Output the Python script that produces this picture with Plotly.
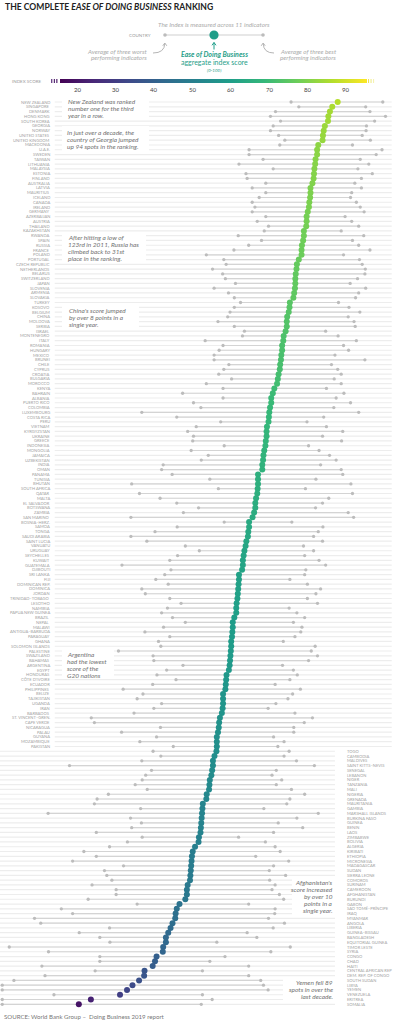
import plotly.graph_objects as go

countries = [
    "NEW ZEALAND", "SINGAPORE", "DENMARK", "HONG KONG", "SOUTH KOREA", "GEORGIA", "NORWAY",
    "UNITED STATES", "UNITED KINGDOM", "MACEDONIA", "U.A.E.", "SWEDEN", "TAIWAN", "LITHUANIA",
    "MALAYSIA", "ESTONIA", "FINLAND", "AUSTRALIA", "LATVIA", "MAURITIUS", "ICELAND", "CANADA",
    "IRELAND", "GERMANY", "AZERBAIJAN", "AUSTRIA", "THAILAND", "KAZAKHSTAN", "RWANDA", "SPAIN",
    "RUSSIA", "FRANCE", "POLAND", "PORTUGAL", "CZECH REPUBLIC", "NETHERLANDS", "BELARUS",
    "SWITZERLAND", "JAPAN", "SLOVENIA", "ARMENIA", "SLOVAKIA", "TURKEY", "KOSOVO", "BELGIUM",
    "CHINA", "MOLDOVA", "SERBIA", "ISRAEL", "MONTENEGRO", "ITALY", "ROMANIA", "HUNGARY", "MEXICO",
    "BRUNEI", "CHILE", "CYPRUS", "CROATIA", "BULGARIA", "MOROCCO", "KENYA", "BAHRAIN", "ALBANIA",
    "PUERTO RICO", "COLOMBIA", "LUXEMBOURG", "COSTA RICA", "PERU", "VIETNAM", "KYRGYZSTAN",
    "UKRAINE", "GREECE", "INDONESIA", "MONGOLIA", "JAMAICA", "UZBEKISTAN", "INDIA", "OMAN",
    "PANAMA", "TUNISIA", "BHUTAN", "SOUTH AFRICA", "QATAR", "MALTA", "EL SALVADOR", "BOTSWANA",
    "ZAMBIA", "SAN MARINO", "BOSNIA–HERZ.", "SAMOA", "TONGA", "SAUDI ARABIA", "SAINT LUCIA",
    "VANUATU", "URUGUAY", "SEYCHELLES", "KUWAIT", "GUATEMALA", "DJIBOUTI", "SRI LANKA", "FIJI",
    "DOMINICAN REP.", "DOMINICA", "JORDAN", "TRINIDAD–TOBAGO", "LESOTHO", "NAMIBIA",
    "PAPUA NEW GUINEA", "BRAZIL", "NEPAL", "MALAWI", "ANTIGUA–BARBUDA", "PARAGUAY", "GHANA",
    "SOLOMON ISLANDS", "PALESTINE", "SWAZILAND", "BAHAMAS", "ARGENTINA", "EGYPT", "HONDURAS",
    "CÔTE D'IVOIRE", "ECUADOR", "PHILIPPINES", "BELIZE", "TAJIKISTAN", "UGANDA", "IRAN",
    "BARBADOS", "ST. VINCENT–GREN.", "CAPE VERDE", "NICARAGUA", "PALAU", "GUYANA", "MOZAMBIQUE",
    "PAKISTAN", "TOGO", "CAMBODIA", "MALDIVES", "SAINT KITTS–NEVIS", "SENEGAL", "LEBANON",
    "NIGER", "TANZANIA", "MALI", "NIGERIA", "GRENADA", "MAURITANIA", "GAMBIA", "MARSHALL ISLANDS",
    "BURKINA FASO", "GUINEA", "BENIN", "LAOS", "ZIMBABWE", "BOLIVIA", "ALGERIA", "KIRIBATI",
    "ETHIOPIA", "MICRONESIA", "MADAGASCAR", "SUDAN", "SIERRA LEONE", "COMOROS", "SURINAM",
    "CAMEROON", "AFGHANISTAN", "BURUNDI", "GABON", "SÃO TOMÉ–PRÍNCIPE", "IRAQ", "MYANMAR",
    "ANGOLA", "LIBERIA", "GUINEA–BISSAU", "BANGLADESH", "EQUITORIAL GUINEA", "TIMOR LESTE",
    "SYRIA", "CONGO", "CHAD", "HAITI", "CENTRAL AFRICAN REP", "DEM. REP. OF CONGO",
    "SOUTH SUDAN", "LIBYA", "YEMEN", "VENEZUELA", "ERITREA", "SOMALIA",
]

score = [
    86.6, 85.2, 84.6, 84.2, 84.1, 83.3, 83.0, 82.8, 82.7, 81.6,
    81.3, 81.3, 80.9, 80.8, 80.6, 80.5, 80.4, 80.1, 79.6, 79.6,
    79.5, 79.3, 79.2, 78.9, 78.6, 78.6, 78.5, 77.9, 77.9, 77.7,
    77.4, 77.3, 77.3, 76.6, 76.1, 76.0, 75.8, 75.7, 75.7, 75.6,
    75.4, 75.2, 74.3, 74.2, 74.0, 73.6, 73.5, 73.5, 73.2, 72.7,
    72.6, 72.3, 72.3, 72.1, 72.0, 71.8, 71.7, 71.4, 71.2, 71.0,
    70.3, 69.9, 69.5, 69.5, 69.2, 69.0, 68.9, 68.8, 68.4, 68.3,
    68.3, 68.1, 68.0, 67.7, 67.5, 67.4, 67.2, 67.2, 66.1, 66.1,
    66.1, 66.0, 65.9, 65.6, 65.4, 65.4, 65.1, 64.7, 63.8, 63.8,
    63.6, 63.5, 63.1, 62.9, 62.6, 62.4, 62.2, 62.2, 62.0, 61.2,
    61.2, 61.1, 61.0, 60.9, 60.8, 60.6, 60.5, 60.5, 60.0, 59.6,
    59.6, 59.5, 59.4, 59.2, 59.2, 59.1, 59.0, 58.9, 58.8, 58.6,
    58.0, 57.9, 57.8, 57.7, 57.1, 57.1, 57.1, 57.0, 56.8, 56.3,
    56.1, 56.0, 55.8, 55.5, 55.5, 55.5, 55.4, 54.9, 54.5, 54.5,
    54.3, 54.1, 53.7, 53.6, 53.5, 52.9, 52.8, 51.9, 51.8, 51.7,
    51.6, 51.5, 51.4, 51.3, 50.9, 50.8, 49.9, 49.3, 49.1, 49.0,
    48.9, 48.8, 48.7, 48.6, 48.0, 47.8, 47.8, 47.4, 45.9, 45.2,
    44.9, 44.8, 44.1, 43.6, 43.0, 42.4, 42.4, 41.7, 41.6, 40.0,
    39.6, 39.0, 36.9, 36.8, 35.5, 33.8, 32.4, 30.6, 23.1, 20.0,
]

worst = [
    74.6, 76.6, 70.6, 69.3, 71.9, 70.0, 69.3, 71.4, 73.0, 71.7,
    63.8, 63.8, 67.4, 61.2, 70.0, 63.0, 63.3, 68.1, 64.6, 68.1,
    66.4, 64.6, 65.3, 64.6, 68.1, 65.9, 68.8, 67.7, 61.0, 67.0,
    63.7, 59.9, 52.8, 57.3, 57.9, 54.4, 57.0, 57.7, 60.3, 54.8,
    58.5, 60.0, 61.6, 60.0, 58.9, 58.3, 55.8, 60.0, 62.6, 62.1,
    52.5, 57.1, 56.1, 54.8, 54.8, 58.6, 57.3, 56.0, 59.3, 52.8,
    57.1, 46.7, 57.1, 49.5, 51.4, 36.2, 45.2, 56.5, 50.2, 48.0,
    49.5, 49.3, 57.4, 48.9, 53.3, 51.5, 41.7, 41.3, 44.0, 53.7,
    33.6, 55.9, 35.6, 40.9, 45.2, 50.8, 46.9, 33.4, 57.4, 45.3,
    39.6, 33.4, 37.5, 47.4, 51.0, 45.4, 43.4, 31.1, 43.7, 42.1,
    39.8, 43.0, 36.2, 37.1, 43.4, 46.3, 42.8, 41.3, 44.1, 47.4,
    41.8, 37.0, 43.4, 40.5, 41.1, 30.2, 39.1, 39.3, 46.8, 42.6,
    40.1, 45.0, 39.0, 31.4, 36.5, 35.0, 41.3, 39.3, 34.2, 23.2,
    24.0, 41.0, 31.0, 40.0, 35.7, 44.3, 39.1, 41.1, 36.2, 17.6,
    38.7, 37.2, 36.3, 34.5, 37.6, 27.6, 24.7, 24.0, 35.9, 12.1,
    33.3, 36.1, 33.6, 24.5, 36.3, 32.5, 27.9, 21.3, 24.5, 18.4,
    31.5, 26.6, 27.2, 28.5, 23.4, 29.6, 29.6, 22.4, 35.0, 15.5,
    18.4, 8.6, 10.2, 27.9, 20.1, 25.4, 28.0, 2.1, 12.2, 25.4,
    25.4, 10.5, 24.2, 11.3, 3.3, 0.3, 0.3, 13.6, 0.3, 0.3,
]

best = [
    98.2, 93.8, 94.9, 98.9, 96.1, 94.0, 93.9, 92.9, 95.0, 90.4,
    98.0, 96.5, 92.4, 94.6, 91.8, 95.5, 92.7, 91.0, 92.7, 90.2,
    89.9, 91.4, 92.4, 93.4, 88.5, 90.2, 92.0, 87.5, 93.3, 90.4,
    92.0, 94.9, 88.1, 92.2, 92.9, 93.7, 93.6, 91.7, 89.8, 93.8,
    92.0, 91.2, 86.8, 89.5, 92.3, 89.3, 90.8, 91.1, 83.5, 86.7,
    91.4, 88.1, 89.4, 85.9, 93.6, 85.0, 86.6, 87.5, 85.7, 87.5,
    83.7, 88.2, 86.2, 89.9, 85.6, 92.0, 83.0, 78.7, 83.7, 87.9,
    82.7, 87.6, 79.1, 81.8, 84.5, 86.2, 82.2, 87.5, 87.9, 81.0,
    90.0, 78.3, 90.4, 84.3, 82.7, 80.9, 89.3, 90.7, 74.8, 82.8,
    81.6, 80.4, 82.7, 77.8, 80.4, 78.1, 81.8, 83.5, 78.4, 78.1,
    74.3, 78.8, 82.2, 81.0, 78.8, 81.4, 74.1, 76.1, 78.1, 75.2,
    77.4, 77.1, 75.6, 72.6, 80.8, 79.8, 81.4, 79.1, 72.4, 75.2,
    76.2, 74.3, 70.5, 77.0, 75.0, 73.8, 70.7, 68.7, 75.6, 80.1,
    78.0, 75.3, 75.3, 70.1, 72.8, 71.2, 74.1, 72.8, 76.0, 80.6,
    70.8, 69.7, 72.2, 70.8, 74.7, 78.1, 74.3, 73.5, 67.6, 81.6,
    76.1, 71.3, 77.6, 70.1, 61.1, 68.0, 70.5, 71.8, 65.5, 74.0,
    70.1, 69.0, 73.2, 69.1, 70.5, 69.7, 71.6, 72.7, 63.7, 70.5,
    70.4, 68.8, 72.9, 70.0, 63.3, 65.8, 55.5, 74.4, 69.4, 57.6,
    53.7, 63.7, 51.8, 63.7, 66.8, 67.5, 68.7, 51.8, 54.3, 51.5,
]

scale_ticks = [20, 30, 40, 50, 60, 70, 80, 90]

W, H = 399, 1024
N = len(countries)
RIGHT_START = countries.index("TOGO")
FONT = "Lato, 'Open Sans', sans-serif"
TEAL = "#1f9e89"
CMIN, CMAX = 15.57, 95.47
BAR_X0, BAR_LEN = 60.0, 307.0


def px(x):
    return x / W


def py(y):
    return 1 - y / H


fig = go.Figure()

# row guide lines
gx, gy = [], []
for i in range(N):
    if i < RIGHT_START:
        gx += [13.8, 100.5, None]
    else:
        gx += [-0.3, 85.9, None]
    gy += [i, i, None]
fig.add_trace(go.Scatter(x=gx, y=gy, mode="lines", line=dict(color="#ededed", width=1.2),
                         hoverinfo="skip"))

# worst-best ranges
rx, ry = [], []
for i in range(N):
    rx += [worst[i], best[i], None]
    ry += [i, i, None]
fig.add_trace(go.Scatter(x=rx, y=ry, mode="lines", line=dict(color="#d4d4d4", width=1.2),
                         hoverinfo="skip"))
fig.add_trace(go.Scatter(x=worst + best, y=list(range(N)) * 2, mode="markers",
                         marker=dict(size=3.3, color="#bcbcbc"), hoverinfo="skip"))

# aggregate score dots
fig.add_trace(go.Scatter(
    x=score, y=list(range(N)), mode="markers",
    marker=dict(size=6, color=score, colorscale="Viridis", cmin=CMIN, cmax=CMAX,
                line=dict(width=0),
                colorbar=dict(orientation="h", lenmode="pixels", len=BAR_LEN,
                              thicknessmode="pixels", thickness=4,
                              x=(BAR_X0 + BAR_LEN / 2) / W, xanchor="center", y=py(79),
                              yanchor="top", xpad=0, ypad=0, outlinewidth=0,
                              showticklabels=False, ticks="")),
    text=countries, hovertemplate="%{text}: %{x}<extra></extra>"))

annotations = []
shapes = []

# country labels
for i, name in enumerate(countries):
    if i < RIGHT_START:
        annotations.append(dict(x=12.97, y=i, xref="x", yref="y", text=name, showarrow=False,
                                xanchor="right", yanchor="middle",
                                font=dict(size=4.1, color="#a3a3a3", family=FONT)))
    else:
        annotations.append(dict(x=88.47, y=i, xref="x", yref="y", text=name, showarrow=False,
                                xanchor="left", yanchor="middle",
                                font=dict(size=4.1, color="#a3a3a3", family=FONT)))


def txt(text, x, y, size, color, anchor="left"):
    annotations.append(dict(x=px(x), y=py(y), xref="paper", yref="paper", text=text,
                            showarrow=False, xanchor=anchor, yanchor="middle",
                            font=dict(size=size, color=color, family=FONT)))


def block(lines, x, y0, anchor="left", step=7.0):
    for k, ln in enumerate(lines):
        txt("<i>" + ln + "</i>", x, y0 + k * step, 6.5, "#727272", anchor)


def box(x0, x1, y0, y1):
    shapes.append(dict(type="rect", xref="paper", yref="paper", x0=px(x0), x1=px(x1),
                       y0=py(y1), y1=py(y0), fillcolor="white", line=dict(width=0),
                       layer="above"))


# white boxes behind story notes
box(62, 149, 98, 119)
box(62, 149, 126, 151)
box(62, 146, 233, 262)
box(62, 139, 305, 329)
box(62, 114, 648, 678)
box(292, 338, 877, 916)
box(283, 338, 977, 1002)

block(["New Zealand was ranked", "number one for the third", "year in a row."], 66, 101.7)
block(["In just over a decade, the", "country of Georgia jumped", "up 94 spots in the ranking."], 65, 132.3)
block(["After hitting a low of", "123rd in 2011, Russia has", "climbed back to 31st",
       "place in the ranking."], 66, 237.7)
block(["China's score jumped", "by over 8 points in a", "single year."], 67, 310)
block(["Argentina", "had the lowest", "score of the", "G20 nations"], 65, 654)
block(["Afghanistan's", "score increased", "by over 10", "points in a", "single year."],
      335, 882, anchor="right")
block(["Yemen fell 89", "spots in over the", "last decade."], 335, 982.3, anchor="right")

# title
txt("<b>THE COMPLETE <i>EASE OF DOING BUSINESS</i> RANKING</b>", 2.5, 7, 8.6, "#222")

# explanatory key
txt("<i>The Index is measured across 11 indicators</i>", 213.7, 24, 6.3, "#ababab", "center")
txt("COUNTRY", 153, 35, 4.5, "#9b9b9b", "right")
shapes.append(dict(type="line", xref="paper", yref="paper", x0=px(165), x1=px(263),
                   y0=py(35), y1=py(35), line=dict(color="#cfcfcf", width=1.2)))
for cx, r, col in [(165, 1.8, "#bcbcbc"), (263, 1.8, "#bcbcbc"), (214, 4.6, TEAL)]:
    shapes.append(dict(type="circle", xref="paper", yref="paper", x0=px(cx - r), x1=px(cx + r),
                       y0=py(35 + r), y1=py(35 - r), fillcolor=col, line=dict(width=0)))


def path(pts_str, color):
    shapes.append(dict(type="path", xref="paper", yref="paper", path=pts_str,
                       line=dict(color=color, width=1)))


path(f"M {px(153)},{py(53)} Q {px(164.5)},{py(53)} {px(164.8)},{py(43.5)}", "#b5b5b5")
path(f"M {px(162.8)},{py(45.8)} L {px(164.8)},{py(43)} L {px(166.8)},{py(45.8)}", "#b5b5b5")
path(f"M {px(274)},{py(53)} Q {px(263.5)},{py(53)} {px(263.2)},{py(43.5)}", "#b5b5b5")
path(f"M {px(261.2)},{py(45.8)} L {px(263.2)},{py(43)} L {px(265.2)},{py(45.8)}", "#b5b5b5")
path(f"M {px(214)},{py(49.5)} L {px(214)},{py(42.5)}", TEAL)
path(f"M {px(212)},{py(45.3)} L {px(214)},{py(42.5)} L {px(216)},{py(45.3)}", TEAL)

txt("<i>Average of three worst</i>", 149, 51, 6.3, "#ababab", "right")
txt("<i>performing indicators</i>", 149, 57.7, 6.3, "#ababab", "right")
txt("<i>Average of three best</i>", 278.3, 51, 6.3, "#ababab", "left")
txt("<i>performing indicators</i>", 278.3, 57.7, 6.3, "#ababab", "left")
txt("<b><i>Ease of Doing Business</i></b>", 214, 54.3, 7, TEAL, "center")
txt("aggregate index score", 214, 62.3, 7, TEAL, "center")
txt("<i>(0-100)</i>", 214, 70, 4.5, TEAL, "center")

# colour scale label, tick labels and end dashes
txt("INDEX SCORE", 10, 81, 4.5, "#9b9b9b", "left")
for t in scale_ticks:
    tx = BAR_X0 + (t - CMIN) / (CMAX - CMIN) * BAR_LEN
    txt(str(t), tx, 89.5, 6, "#444", "center")
for x0, col in [(51.2, "#4b1a6e"), (53.8, "#461466"), (56.3, "#440f60"),
                (368.0, "#e9e55a"), (370.5, "#efec8a"), (373.0, "#f4f2b4")]:
    shapes.append(dict(type="rect", xref="paper", yref="paper", x0=px(x0), x1=px(x0 + 1.1),
                       y0=py(83), y1=py(79), fillcolor=col, line=dict(width=0)))

txt("SOURCE: World Bank Group –  Doing Business 2019 report", 2, 1016.8, 6.1, "#777", "left")

fig.update_layout(
    width=W, height=H, margin=dict(l=0, r=0, t=0, b=0),
    paper_bgcolor="white", plot_bgcolor="white", showlegend=False,
    xaxis=dict(range=[-0.28, 102.37], visible=False, fixedrange=True),
    yaxis=dict(range=[193.13, -21.37], visible=False, fixedrange=True),
    annotations=annotations, shapes=shapes,
    font=dict(family=FONT),
)

fig.write_html("out.html", config={"displayModeBar": False},
               post_script="document.body.style.margin='0';document.body.style.overflow='hidden';")
